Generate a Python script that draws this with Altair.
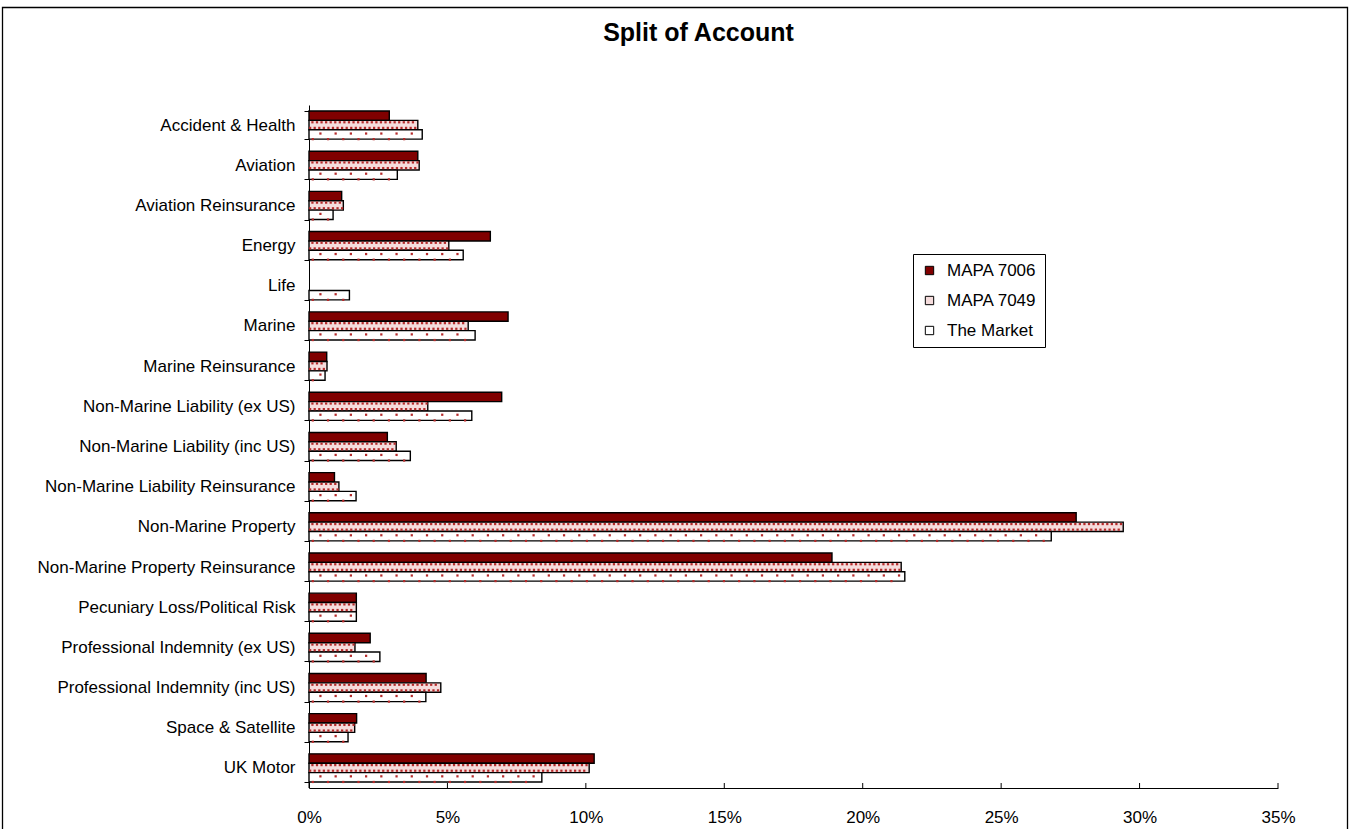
import altair as alt
import pandas as pd

categories = [
    "Accident & Health", "Aviation", "Aviation Reinsurance", "Energy", "Life",
    "Marine", "Marine Reinsurance", "Non-Marine Liability (ex US)",
    "Non-Marine Liability (inc US)", "Non-Marine Liability Reinsurance",
    "Non-Marine Property", "Non-Marine Property Reinsurance",
    "Pecuniary Loss/Political Risk", "Professional Indemnity (ex US)",
    "Professional Indemnity (inc US)", "Space & Satellite", "UK Motor",
]
series_names = ["MAPA 7006", "MAPA 7049", "The Market"]
mapa_7006 = [2.90, 3.93, 1.18, 6.55, 0.0, 7.19, 0.64, 6.96, 2.83, 0.92,
             27.71, 18.89, 1.71, 2.21, 4.23, 1.72, 10.30]
mapa_7049 = [3.93, 3.98, 1.24, 5.05, 0.0, 5.75, 0.65, 4.29, 3.15, 1.08,
             29.41, 21.39, 1.71, 1.66, 4.76, 1.65, 10.12]
the_market = [4.09, 3.19, 0.87, 5.57, 1.46, 6.00, 0.58, 5.88, 3.66, 1.70,
              26.81, 21.52, 1.71, 2.56, 4.22, 1.41, 8.41]
x_ticks = [0, 5, 10, 15, 20, 25, 30, 35]

FONT = "Liberation Sans"
W, H = 969, 683

rows = []
for name, vals in zip(series_names, [mapa_7006, mapa_7049, the_market]):
    for c, v in zip(categories, vals):
        rows.append({"category": c, "series": name, "value": v})
df = pd.DataFrame(rows)

# dotted texture for the two patterned series (derived from the values)
dot_rows = []
texture = {"MAPA 7049": 0.165, "The Market": 0.55}
for name, vals in zip(series_names, [mapa_7006, mapa_7049, the_market]):
    if name not in texture:
        continue
    step = texture[name]
    for c, v in zip(categories, vals):
        for sub, start in (("a", 0.75), ("b", 0.25)):
            x = step * start
            while x < v - step * 0.2:
                dot_rows.append({"category": c, "sub": name + "|" + sub, "value": x})
                x += step
dots_df = pd.DataFrame(dot_rows)
sub_order = [s + "|" + r for s in series_names for r in ("a", "b")]

y_enc = alt.Y("category:N", sort=categories,
              scale=alt.Scale(paddingInner=0.3, paddingOuter=0.15),
              axis=alt.Axis(title=None, tickBand="extent", tickSize=5,
                            tickColor="black", domainColor="black",
                            labelFontSize=17, labelFont=FONT, labelColor="black",
                            labelPadding=9, labelLimit=400))
x_enc = alt.X("value:Q", scale=alt.Scale(domain=[0, 35], nice=False),
              axis=alt.Axis(title=None, values=x_ticks, ticks=False, tickSize=0,
                            grid=False, domainColor="black", labelFontSize=17,
                            labelFont=FONT, labelColor="black", labelPadding=21,
                            labelFlush=False,
                            labelExpr="datum.value + '%'"))

bars = alt.Chart(df).transform_filter("datum.value > 0").mark_bar(
    stroke="black", strokeWidth=1.4, cornerRadius=0
).encode(
    y=y_enc,
    x=x_enc,
    yOffset=alt.YOffset("series:N", sort=series_names,
                        scale=alt.Scale(domain=series_names, paddingInner=0, paddingOuter=0)),
    color=alt.Color("series:N", sort=series_names,
                    scale=alt.Scale(domain=series_names, range=["#800000", "#f5dcdc", "#ffffff"]),
                    legend=alt.Legend(title=None, orient="none", legendX=604, legendY=149,
                                      direction="vertical", padding=8, strokeColor="black",
                                      fillColor="white", symbolType="square", symbolSize=70,
                                      symbolStrokeColor="black", symbolStrokeWidth=1,
                                      labelFontSize=17, labelFont=FONT, labelColor="black",
                                      rowPadding=12, labelOffset=9)),
)

dots = alt.Chart(dots_df).mark_square(size=5, color="#b52a2a", opacity=1).encode(
    y=alt.Y("category:N", sort=categories),
    x=alt.X("value:Q"),
    yOffset=alt.YOffset("sub:N", sort=sub_order,
                        scale=alt.Scale(domain=sub_order, paddingInner=0, paddingOuter=0)),
)

xtick_df = pd.DataFrame({"value": x_ticks})
xticks = alt.Chart(xtick_df).mark_rule(color="black", strokeWidth=1).encode(
    x=alt.X("value:Q"), y=alt.value(H - 5), y2=alt.value(H)
)

border = alt.Chart(pd.DataFrame({"a": [0]})).mark_rect(
    filled=False, stroke="black", strokeWidth=1.3, clip=False
).encode(x=alt.value(-306.5), x2=alt.value(1038.5), y=alt.value(-97.5), y2=alt.value(760))

chart = alt.layer(border, bars, dots, xticks).resolve_scale(yOffset="independent").properties(
    width=W, height=H,
    background="white",
    autosize=alt.AutoSizeParams(type="none"),
    padding={"left": 309, "top": 105, "right": 72, "bottom": 41},
    title=alt.TitleParams("Split of Account", fontSize=25, fontWeight="bold", font=FONT,
                          color="black", anchor="middle", dx=-95, offset=0, dy=39),
).configure_view(strokeWidth=0, stroke="transparent")

chart.save("out.html", embed_options={"renderer": "svg", "actions": False})
